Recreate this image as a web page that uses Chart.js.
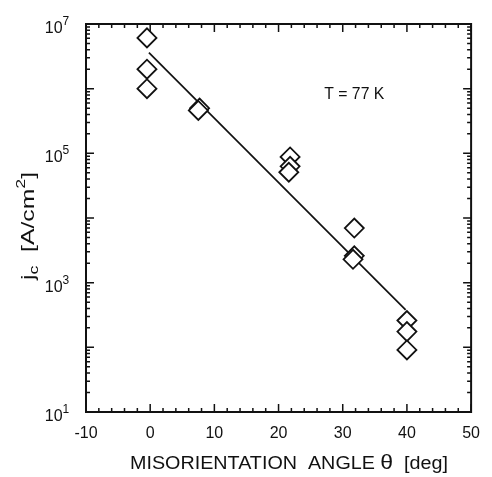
<!DOCTYPE html>
<html>
<head>
<meta charset="utf-8">
<script src="https://cdn.jsdelivr.net/npm/chart.js@4.4.1/dist/chart.umd.min.js"></script>
<style>
  html, body { margin: 0; padding: 0; background: #fff; }
  #wrap { width: 492px; height: 477px; }
</style>
</head>
<body>
<div id="wrap"><canvas id="jcChart" width="492" height="477"></canvas></div>
<script>
// measured points (angle in deg, jc in A/cm^2)
const angles = [-0.5, -0.5, -0.5, 7.7, 7.5, 21.8, 21.8, 21.6, 31.8, 31.8, 31.6, 40, 40, 40];
const jcValues = [6.1e6, 2.0e6, 1.0e6, 5.0e5, 4.6e5, 8.8e4, 6.3e4, 5.1e4, 7.0e3, 2.6e3, 2.3e3, 260, 175, 91];

// fitted line end points
const fitAngles = [-0.2, 39.8];
const fitJc = [3.6e6, 380];

const xTickLabels = [-10, 0, 10, 20, 30, 40, 50];
const yTickLabels = [10, 1e3, 1e5, 1e7];

const FONT = '"Liberation Sans", Arial, sans-serif';

const points = angles.map((a, i) => ({ x: a, y: jcValues[i] }));
const fitLine = fitAngles.map((a, i) => ({ x: a, y: fitJc[i] }));

// draw a run of text pieces (font size, vertical shift) stretched to a given length
function drawRun(ctx, parts, length) {
    let total = 0;
    parts.forEach(p => { ctx.font = p.f + 'px ' + FONT; total += ctx.measureText(p.t).width; });
    const k = length ? length / total : 1;
    ctx.save();
    ctx.scale(k, 1);
    let cx = -total / 2;
    parts.forEach(p => {
        ctx.font = p.f + 'px ' + FONT;
        ctx.fillText(p.t, cx, p.dy);
        cx += ctx.measureText(p.t).width;
    });
    ctx.restore();
}

// inward ticks on all four sides + labels that need sub/superscripts
const decorPlugin = {
    id: 'decor',
    afterDraw(chart) {
        const ctx = chart.ctx;
        const xs = chart.scales.x, ys = chart.scales.y;
        const area = chart.chartArea;
        ctx.save();
        ctx.strokeStyle = '#111';
        ctx.lineWidth = 1.5;

        // x ticks every 2, long every 10
        for (let v = -10; v <= 50; v += 2) {
            const px = xs.getPixelForValue(v);
            const len = v % 10 === 0 ? 8 : 4;
            ctx.beginPath();
            ctx.moveTo(px, area.bottom); ctx.lineTo(px, area.bottom - len);
            ctx.moveTo(px, area.top); ctx.lineTo(px, area.top + len);
            ctx.stroke();
        }
        // y log ticks
        for (let e = 1; e < 7; e++) {
            for (let m = 1; m <= 9; m++) {
                const py = ys.getPixelForValue(m * Math.pow(10, e));
                const len = m === 1 ? 8 : 4;
                ctx.beginPath();
                ctx.moveTo(area.left, py); ctx.lineTo(area.left + len, py);
                ctx.moveTo(area.right, py); ctx.lineTo(area.right - len, py);
                ctx.stroke();
            }
        }

        ctx.fillStyle = '#111';
        ctx.textBaseline = 'alphabetic';
        ctx.textAlign = 'left';

        // y tick labels 10^n
        yTickLabels.forEach(v => {
            const e = String(Math.round(Math.log10(v)));
            const py = ys.getPixelForValue(v);
            ctx.save();
            ctx.translate(57, py + 9);
            drawRun(ctx, [
                { t: '10', f: 16, dy: 0 },
                { t: e, f: 12, dy: -8 }
            ]);
            ctx.restore();
        });

        // T = 77 K note
        ctx.save();
        ctx.translate(xs.getPixelForValue(31.8), ys.getPixelForValue(8.5e5) + 6);
        drawRun(ctx, [{ t: 'T = 77 K', f: 16, dy: 0 }], 60);
        ctx.restore();

        // x axis title
        ctx.save();
        ctx.translate(289, 469);
        drawRun(ctx, [{ t: 'MISORIENTATION  ANGLE ', f: 18, dy: 0 },
                      { t: '\u03b8', f: 21, dy: 0 },
                      { t: '  [deg]', f: 18, dy: 0 }], 318);
        ctx.restore();

        // y axis title with subscript / superscript
        ctx.save();
        ctx.translate(34, 226);
        ctx.rotate(-Math.PI / 2);
        drawRun(ctx, [
            { t: 'j', f: 18, dy: 0 },
            { t: 'c', f: 13, dy: 4 },
            { t: '  [A/cm', f: 18, dy: 0 },
            { t: '2', f: 13, dy: -9 },
            { t: ']', f: 18, dy: 0 }
        ], 108);
        ctx.restore();
        ctx.restore();
    }
};

const ctx = document.getElementById('jcChart').getContext('2d');
new Chart(ctx, {
    type: 'scatter',
    data: {
        datasets: [
            {
                label: 'jc',
                data: points,
                pointStyle: 'rectRot',
                pointRadius: 9.5,
                pointBorderWidth: 1.8,
                pointBackgroundColor: '#fff',
                pointBorderColor: '#111',
                showLine: false
            },
            {
                label: 'fit',
                data: fitLine,
                showLine: true,
                borderColor: '#111',
                borderWidth: 1.7,
                pointRadius: 0,
                fill: false
            }
        ]
    },
    options: {
        responsive: false,
        animation: false,
        layout: { padding: { top: 24, right: 9, left: 0, bottom: 0 } },
        plugins: {
            legend: { display: false },
            tooltip: { enabled: false }
        },
        scales: {
            x: {
                type: 'linear',
                min: -10,
                max: 50,
                grid: { display: false, drawTicks: false },
                border: { display: true, color: '#111', width: 2 },
                afterBuildTicks: s => { s.ticks = xTickLabels.map(v => ({ value: v })); },
                afterFit: s => { s.height = 65; },
                ticks: {
                    color: '#111',
                    padding: 12,
                    autoSkip: false,
                    maxRotation: 0,
                    font: { family: FONT, size: 16 },
                    callback: v => String(v)
                }
            },
            y: {
                type: 'logarithmic',
                min: 10,
                max: 1e7,
                grid: { display: false, drawTicks: false },
                border: { display: true, color: '#111', width: 2 },
                afterBuildTicks: s => { s.ticks = yTickLabels.map(v => ({ value: v })); },
                afterFit: s => { s.width = 86; },
                ticks: { display: false }
            }
        }
    },
    plugins: [decorPlugin, {
        id: 'frame',
        afterDraw(chart) {
            const a = chart.chartArea, c = chart.ctx;
            c.save();
            c.strokeStyle = '#111';
            c.lineWidth = 2;
            c.strokeRect(a.left, a.top, a.right - a.left, a.bottom - a.top);
            c.restore();
        }
    }]
});
</script>
</body>
</html>
